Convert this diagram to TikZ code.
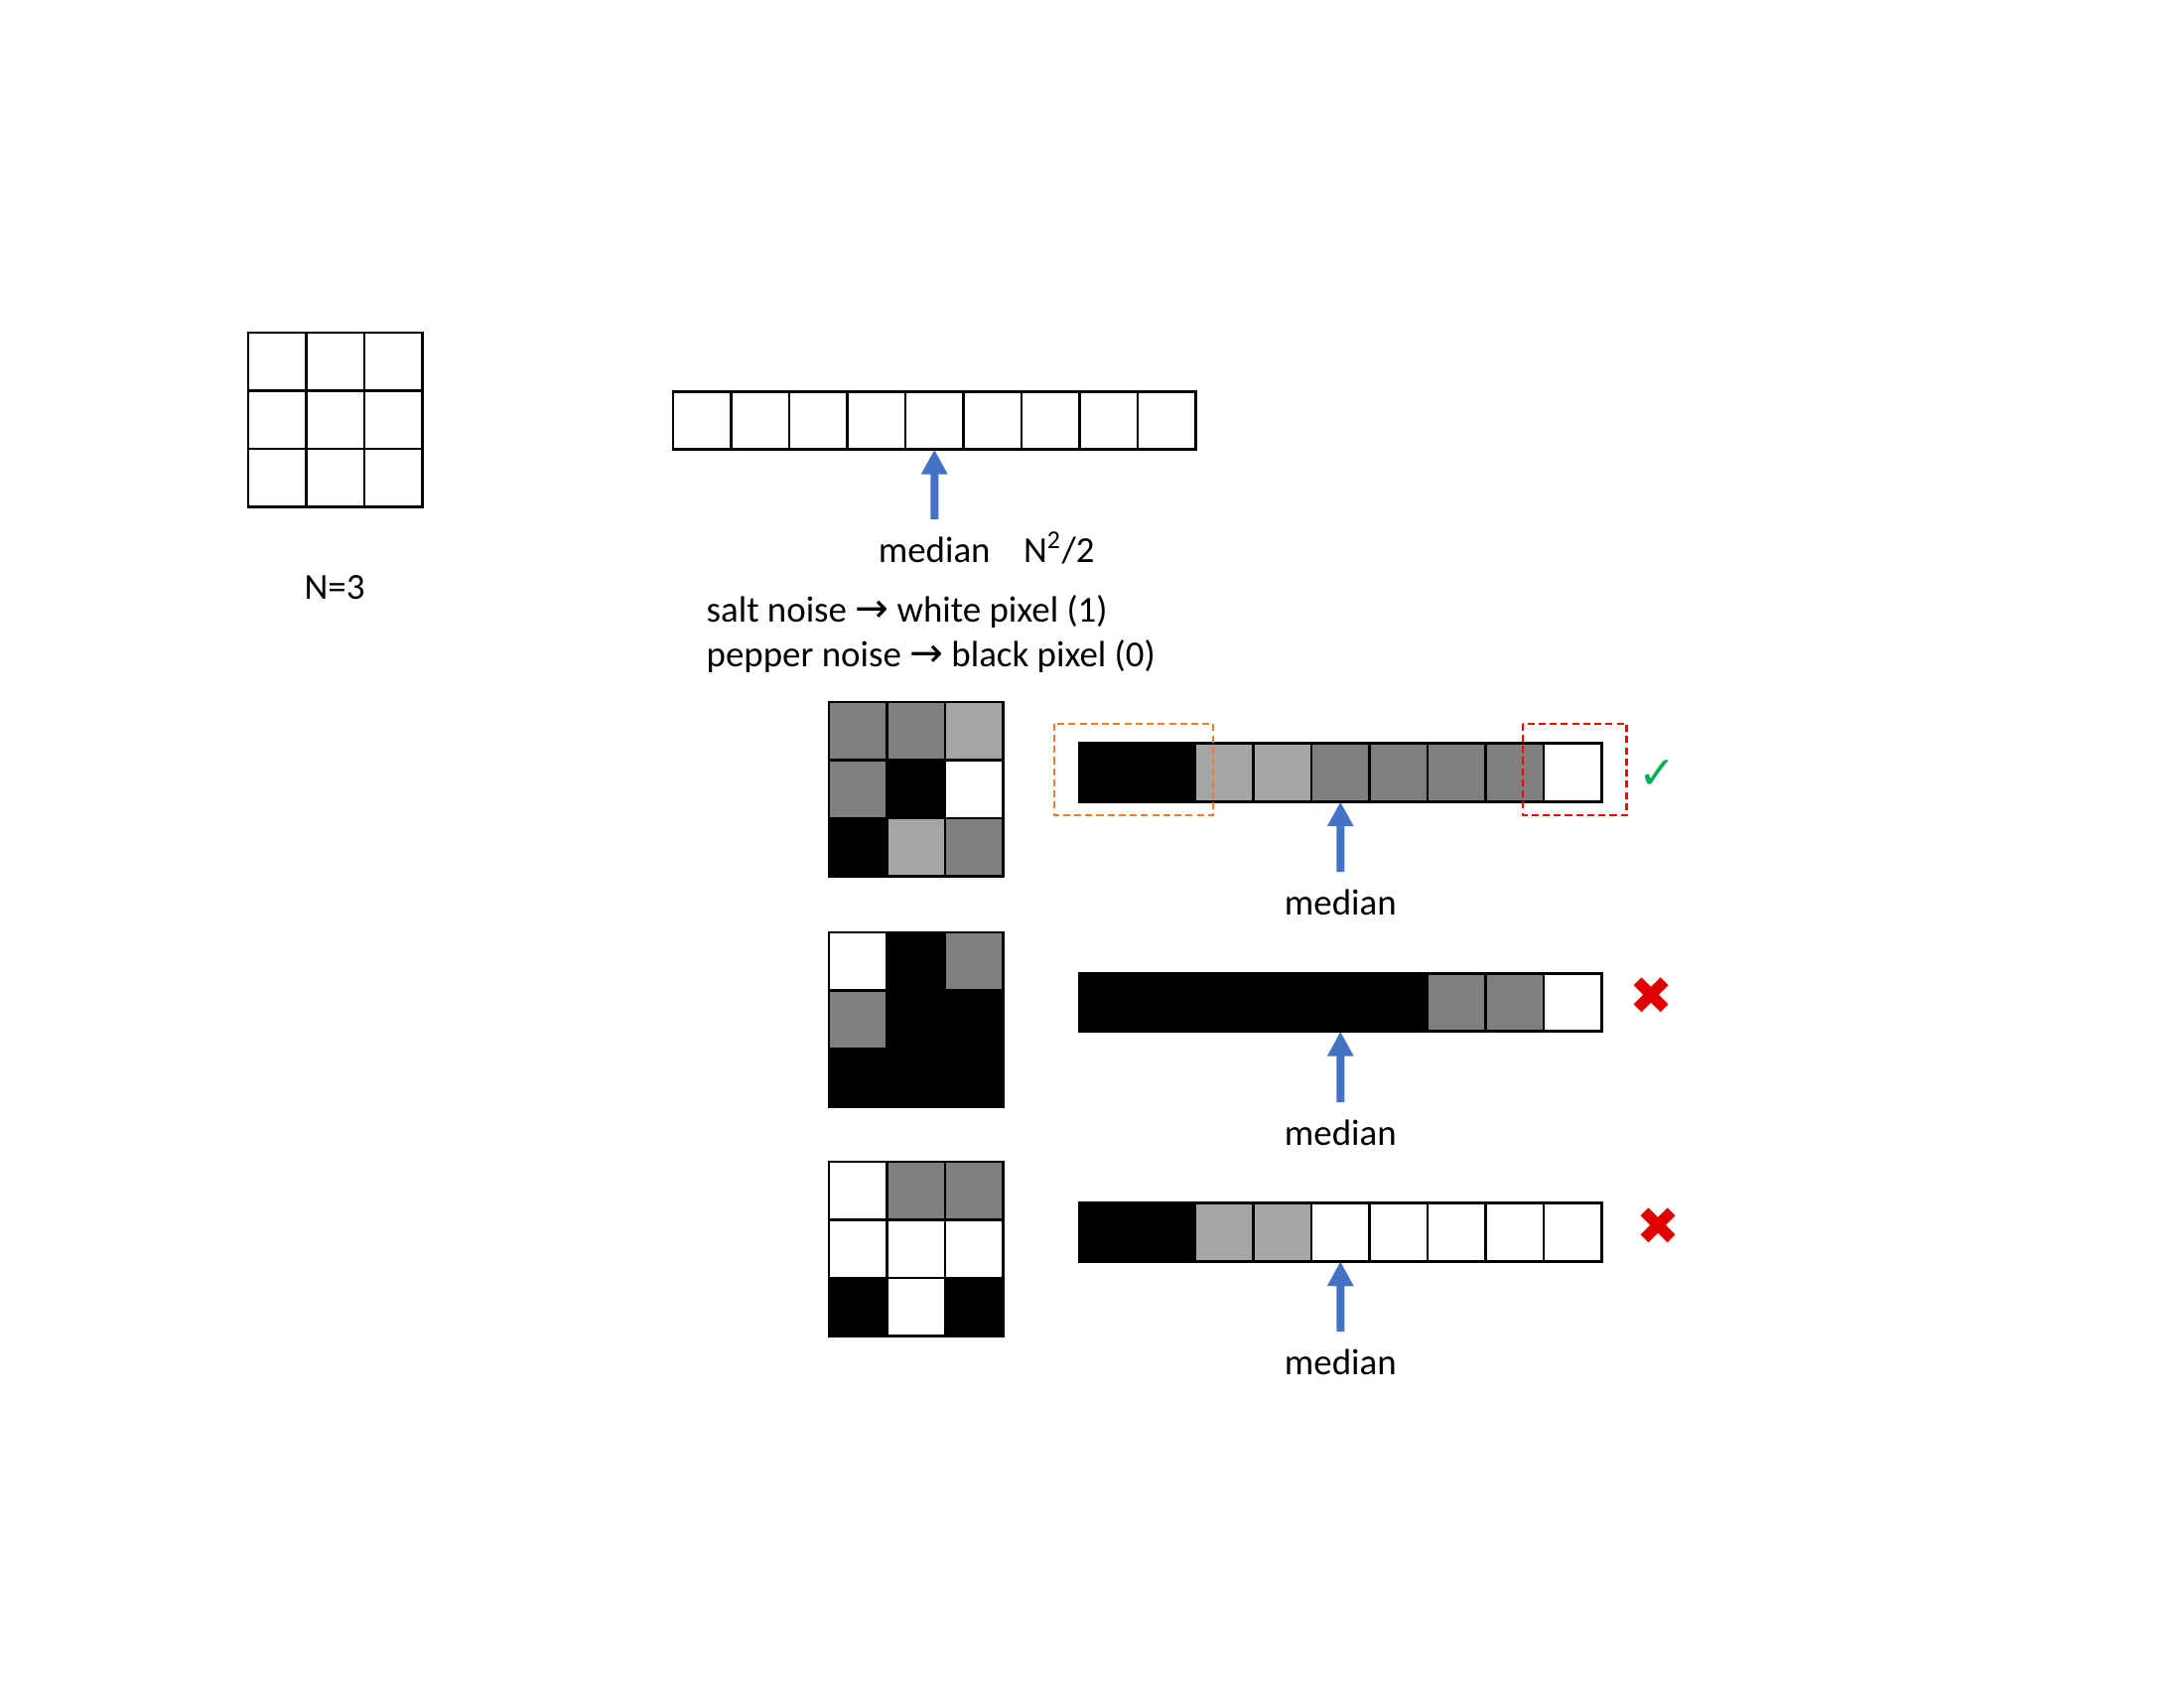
\documentclass[tikz,border=0pt]{standalone}
\usepackage{fontspec}
\setmainfont{Carlito}
\newfontfamily\symbolfont{DejaVu Sans}
\usetikzlibrary{arrows.meta,positioning}
\definecolor{pxdark}{HTML}{7F7F7F}
\definecolor{pxlight}{HTML}{A5A5A5}
\definecolor{arrowblue}{HTML}{4472C4}
\definecolor{boxorange}{HTML}{ED7D31}
\definecolor{boxred}{HTML}{FF0000}
\definecolor{okgreen}{HTML}{00B050}
\definecolor{badred}{HTML}{E00000}
\newcommand{\toarrow}{{\symbolfont\fontsize{11.5}{12}\selectfont →}}

\begin{document}
\begin{tikzpicture}[
    cell/.style={rectangle, draw, line width=0.75pt, minimum size=0.585cm, inner sep=0pt, outer sep=0pt},
    lbl/.style={font=\fontsize{10.5}{12.6}\selectfont, inner sep=0pt},
    medlbl/.style={lbl, outer ysep=0.18cm},
    medarrow/.style={-{Triangle[width=0.25cm, length=0.25cm]}, line width=0.08cm, arrowblue},
    pick/.style={line width=0.6pt, dash pattern=on 2pt off 1.2pt},
    okmark/.style={font=\fontsize{13}{15}\selectfont\symbolfont, text=okgreen, inner sep=0pt},
    badmark/.style={font=\fontsize{15}{17}\selectfont\symbolfont, text=badred, inner sep=0pt}
]
    \useasboundingbox (0,0) rectangle (22,17);

    % === KERNEL N x N ===
    \foreach \i in {0,...,8}
      \node[cell] (k-\i) at ({2.5+0.2925+mod(\i,3)*0.585}, {13.65-0.2925-floor(\i/3)*0.585}) {};
    \node[lbl] (nlabel) at (3.37,11.08) {N=3};

    % === SORTED WINDOW ===
    \foreach \i in {1,...,9}
      \node[cell] (s-\i) at ({6.78-0.2925+\i*0.585}, 12.765) {};
    \node[medlbl] (smed) at (9.4125,11.46) {median};
    \node[lbl, right=0.32cm of smed.base east, anchor=base west] (nhalf) {N\textsuperscript{2}/2};
    \draw[medarrow] (smed.north) -- (s-5.south);

    % Noise types
    \node[lbl, anchor=base west] (salt) at (7.11,10.73) {salt noise \toarrow{} white pixel (1)};
    \node[lbl, anchor=base west] (pepper) at ([yshift=-0.45cm]salt.base west) {pepper noise \toarrow{} black pixel (0)};

    % === ROW 1: works ===
    \foreach \c [count=\i from 0] in {pxdark,pxdark,pxlight,pxdark,black,white,black,pxlight,pxdark}
      \node[cell, fill=\c] (a-\i) at ({8.35+0.2925+mod(\i,3)*0.585}, {9.93-0.2925-floor(\i/3)*0.585}) {};
    \foreach \c [count=\i] in {black,black,pxlight,pxlight,pxdark,pxdark,pxdark,pxdark,white}
      \node[cell, fill=\c] (sa-\i) at ({10.87-0.2925+\i*0.585}, 9.22) {};
    \node[medlbl] (amed) at (13.5025,7.91) {median};
    \draw[medarrow] (amed.north) -- (sa-5.south);
    \draw[pick, boxorange] ([shift={(-0.25,0.2)}]sa-1.north west) rectangle ([shift={(0.18,-0.14)}]sa-2.south east);
    \draw[pick, boxred] ([shift={(-0.21,0.2)}]sa-9.north west) rectangle ([shift={(0.25,-0.14)}]sa-9.south east);
    \node[okmark] (aok) at (16.70,9.20) {✓};

    % === ROW 2: fails ===
    \foreach \c [count=\i from 0] in {white,black,pxdark,pxdark,black,black,black,black,black}
      \node[cell, fill=\c] (b-\i) at ({8.35+0.2925+mod(\i,3)*0.585}, {7.61-0.2925-floor(\i/3)*0.585}) {};
    \foreach \c [count=\i] in {black,black,black,black,black,black,pxdark,pxdark,white}
      \node[cell, fill=\c] (sb-\i) at ({10.87-0.2925+\i*0.585}, 6.905) {};
    \node[medlbl] (bmed) at (13.5025,5.59) {median};
    \draw[medarrow] (bmed.north) -- (sb-5.south);
    \node[badmark] (bbad) at (16.64,6.97) {✖};

    % === ROW 3: fails ===
    \foreach \c [count=\i from 0] in {white,pxdark,pxdark,white,white,white,black,white,black}
      \node[cell, fill=\c] (c-\i) at ({8.35+0.2925+mod(\i,3)*0.585}, {5.30-0.2925-floor(\i/3)*0.585}) {};
    \foreach \c [count=\i] in {black,black,pxlight,pxlight,white,white,white,white,white}
      \node[cell, fill=\c] (sc-\i) at ({10.87-0.2925+\i*0.585}, 4.59) {};
    \node[medlbl] (cmed) at (13.5025,3.28) {median};
    \draw[medarrow] (cmed.north) -- (sc-5.south);
    \node[badmark] (cbad) at (16.71,4.65) {✖};

\end{tikzpicture}
\end{document}
